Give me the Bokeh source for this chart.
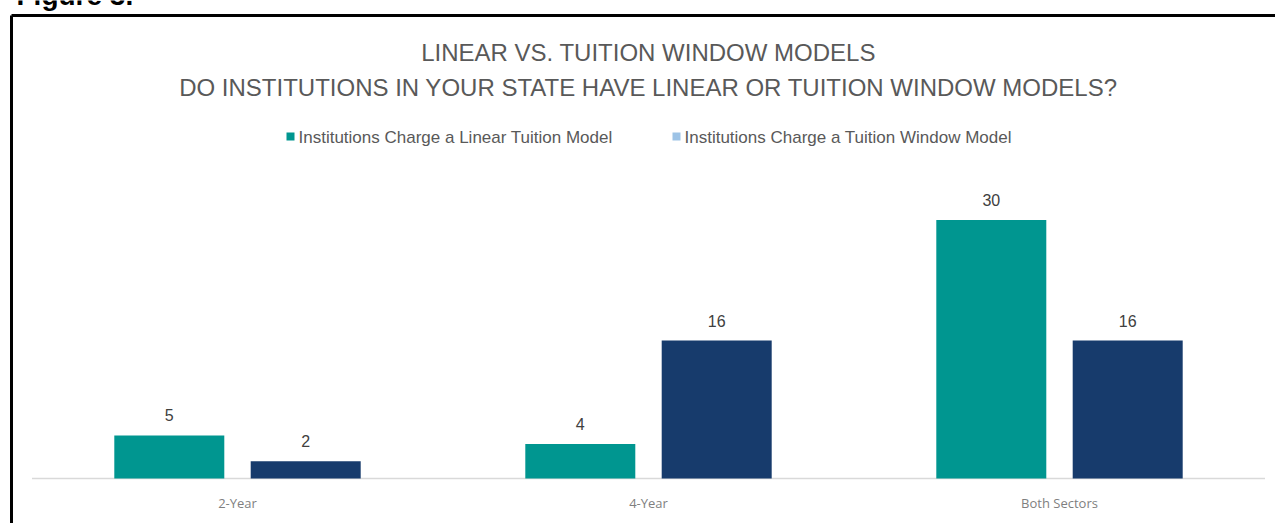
from bokeh.plotting import figure
from bokeh.models import Range1d, ColumnDataSource, Label
from bokeh.transform import dodge
from bokeh.core.properties import value
from bokeh.embed import file_html
from bokeh.resources import INLINE

# ---- data ----
categories = ["2-Year", "4-Year", "Both Sectors"]
linear_vals = [5, 4, 30]
window_vals = [2, 16, 16]
series_names = ["Institutions Charge a Linear Tuition Model",
                "Institutions Charge a Tuition Window Model"]
title_lines = ["LINEAR VS. TUITION WINDOW MODELS",
               "DO INSTITUTIONS IN YOUR STATE HAVE LINEAR OR TUITION WINDOW MODELS?"]
figure_caption = "Figure 3."

# ---- styling / geometry ----
TEAL = "#009690"
NAVY = "#173B6C"
LEGEND_BLUE = "#9DC3E6"
SANS = "Liberation Sans"

W, H = 1275, 523
CAT_PX = 411.0
X_LEFT_PX = 31.5
BASE_PX = 478.0
Y_PX = 8.62

x0 = -X_LEFT_PX / CAT_PX
x1 = x0 + W / CAT_PX
y0 = -(H - BASE_PX) / Y_PX
y1 = BASE_PX / Y_PX

def px_x(px):
    return x0 + px / CAT_PX

def px_y(py):
    return (BASE_PX - py) / Y_PX

p = figure(width=W, height=H, output_backend="svg", toolbar_location=None,
           x_range=Range1d(x0, x1), y_range=Range1d(y0, y1),
           x_axis_location=None, y_axis_location=None,
           min_border=0, min_border_left=0, min_border_right=0,
           min_border_top=0, min_border_bottom=0)
p.outline_line_color = None
p.grid.visible = False
p.background_fill_color = "white"
p.border_fill_color = "white"

src = ColumnDataSource(dict(
    x=[i + 0.5 for i in range(len(categories))],
    cat=categories,
    linear=linear_vals,
    window=window_vals,
    linear_txt=[str(v) for v in linear_vals],
    window_txt=[str(v) for v in window_vals],
))

BAR_W = 110 / CAT_PX
OFF = 68.2 / CAT_PX

# baseline
p.segment(x0=[0], x1=[len(categories)], y0=[0], y1=[0], line_color="#D9D9D9", line_width=1.5)

p.vbar(x=dodge("x", -OFF), top="linear", width=BAR_W, bottom=0, source=src,
       fill_color=TEAL, line_color=None)
p.vbar(x=dodge("x", OFF), top="window", width=BAR_W, bottom=0, source=src,
       fill_color=NAVY, line_color=None)

p.text(x=dodge("x", -OFF), y="linear", text="linear_txt", source=src,
       text_align="center", text_baseline="middle", y_offset=-20,
       text_font=value(SANS), text_font_size="16px", text_color="#404040")
p.text(x=dodge("x", OFF), y="window", text="window_txt", source=src,
       text_align="center", text_baseline="middle", y_offset=-20,
       text_font=value(SANS), text_font_size="16px", text_color="#404040")

# category labels
p.text(x="x", y=0, text="cat", source=src, y_offset=24,
       text_align="center", text_baseline="middle",
       text_font=value("Open Sans"), text_font_size="13px", text_color="#7F7F7F")

# title
for line, mid in zip(title_lines, [52, 87]):
    p.add_layout(Label(x=px_x(648), y=px_y(mid), text=line, text_align="center",
                       text_baseline="middle", text_font=SANS,
                       text_font_size="24px", text_color="#595959"))

# legend (manual)
leg_colors = [TEAL, LEGEND_BLUE]
leg_sq_px = [290, 676]
leg_txt_px = [298, 684]
p.scatter(x=[px_x(v) for v in leg_sq_px], y=[px_y(136)] * 2, marker="square", size=8,
          fill_color=leg_colors, line_color=None)
p.text(x=[px_x(v) for v in leg_txt_px], y=[px_y(137)] * 2, text=series_names,
       text_align="left", text_baseline="middle",
       text_font=value(SANS), text_font_size="17px", text_color="#595959")

# frame box (left and top lines)
p.segment(x0=[px_x(11), px_x(11)], y0=[px_y(15), px_y(15)],
          x1=[x1 + 1, px_x(11)], y1=[px_y(15), y0 - 1],
          line_color="black", line_width=3)

# figure caption (cut at top, as in the reference)
p.add_layout(Label(x=px_x(16), y=px_y(-5), text=figure_caption, text_align="left",
                   text_baseline="middle", text_font=SANS,
                   text_font_style="bold", text_font_size="28px", text_color="black"))

open("out.html", "w").write(file_html(p, INLINE))
